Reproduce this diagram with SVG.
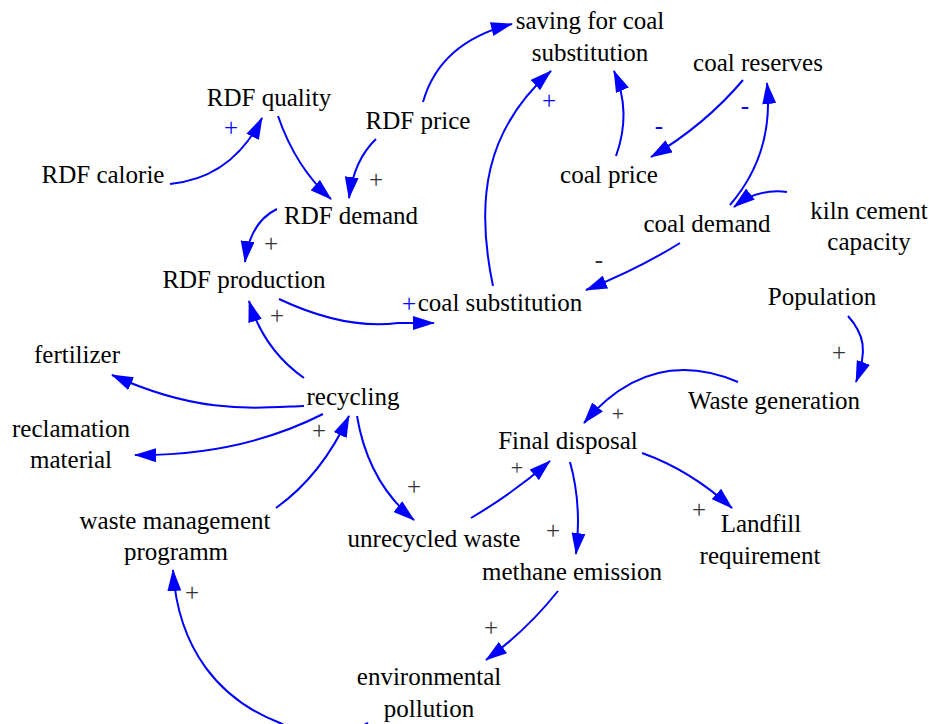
<svg xmlns="http://www.w3.org/2000/svg" width="929" height="724" viewBox="0 0 929 724">
<style>
text{font-family:"Liberation Serif","Times New Roman",serif;font-size:25px;fill:#000;text-anchor:middle}
.c{fill:none;stroke:#0000ff;stroke-width:2;marker-end:url(#ah)}
.pb{fill:#0000ff}
.pk{fill:#333}
.sm{font-size:22px}
</style>
<defs>
<marker id="ah" viewBox="0 0 22 14" refX="21" refY="7" markerWidth="22" markerHeight="14" markerUnits="userSpaceOnUse" orient="auto">
<path d="M0,0 L22,7 L0,14 z" fill="#0000ff"/>
</marker>
</defs>
<g id="connectors">
<path class="c" d="M170,184 Q232,178 262,118"/>
<path class="c" d="M278,116 Q296,168 331,199"/>
<path class="c" d="M376,139 Q354,160 349,198"/>
<path class="c" d="M423,102 Q440,42 512,24"/>
<path class="c" d="M277,209 Q250,222 245,262"/>
<path class="c" d="M279,299 Q345,330 398,323 L434,323"/>
<path class="c" d="M304,378 Q264,350 249,301"/>
<path class="c" d="M493,286 C475,200 485,130 551,71"/>
<path class="c" d="M616,156 Q632,112 614,71"/>
<path class="c" d="M743,80 Q705,125 651,157"/>
<path class="c" d="M730,205 C760,170 772,130 767,83"/>
<path class="c" d="M787,192 Q758,188 734,207"/>
<path class="c" d="M680,243 Q640,268 586,290"/>
<path class="c" d="M848,316 C864,334 868,350 856,382"/>
<path class="c" d="M738,382 Q650,345 584,423"/>
<path class="c" d="M471,518 Q515,492 550,461"/>
<path class="c" d="M357,416 Q368,482 414,520"/>
<path class="c" d="M276,508 Q322,475 349,416"/>
<path class="c" d="M304,406 C255,408 200,415 112,375"/>
<path class="c" d="M323,414 Q240,456 135,455"/>
<path class="c" d="M570,462 Q582,505 576,554"/>
<path class="c" d="M642,453 Q690,470 732,508"/>
<path class="c" d="M558,591 Q527,630 486,660"/>
<path class="c" d="M368,723 C340,738 300,734 280,723 C220,700 178,650 173,570"/>
<text class="pb" x="231" y="136">+</text>
<text class="pk" x="376" y="188">+</text>
<text class="pk" x="271" y="252">+</text>
<text class="pk" x="277" y="324">+</text>
<text class="pb" x="409" y="312">+</text>
<text class="pb" x="549" y="109">+</text>
<text class="pb" x="659" y="134">-</text>
<text class="pb" x="745" y="114">-</text>
<text class="pk" x="599" y="268">-</text>
<text class="pk" x="839" y="361">+</text>
<text class="pk sm" x="618" y="421">+</text>
<text class="pk sm" x="517" y="475">+</text>
<text class="pk" x="319" y="439">+</text>
<text class="pk" x="414" y="495">+</text>
<text class="pk" x="553" y="539">+</text>
<text class="pk" x="699" y="518">+</text>
<text class="pk" x="491" y="636">+</text>
<text class="pk" x="192" y="601">+</text>
</g>
<g id="saving"><text x="590" y="29">saving for coal</text><text x="590" y="61">substitution</text></g>
<g id="coal_reserves"><text x="758" y="71">coal reserves</text></g>
<g id="rdf_quality"><text x="269" y="106">RDF quality</text></g>
<g id="rdf_price"><text x="418" y="129">RDF price</text></g>
<g id="rdf_calorie"><text x="103" y="183">RDF calorie</text></g>
<g id="coal_price"><text x="609" y="183">coal price</text></g>
<g id="rdf_demand"><text x="351" y="224">RDF demand</text></g>
<g id="coal_demand"><text x="707" y="232">coal demand</text></g>
<g id="kiln"><text x="869" y="219">kiln cement</text><text x="869" y="250">capacity</text></g>
<g id="rdf_production"><text x="244" y="288">RDF production</text></g>
<g id="coal_substitution"><text x="500" y="311">coal substitution</text></g>
<g id="population"><text x="822" y="305">Population</text></g>
<g id="fertilizer"><text x="77" y="363">fertilizer</text></g>
<g id="recycling"><text x="353" y="405">recycling</text></g>
<g id="reclamation"><text x="71" y="437">reclamation</text><text x="71" y="468">material</text></g>
<g id="waste_generation"><text x="774" y="409">Waste generation</text></g>
<g id="final_disposal"><text x="568" y="449">Final disposal</text></g>
<g id="waste_mgmt"><text x="175" y="529">waste management</text><text x="176" y="560">programm</text></g>
<g id="unrecycled"><text x="434" y="547">unrecycled waste</text></g>
<g id="landfill"><text x="761" y="532">Landfill</text><text x="760" y="564">requirement</text></g>
<g id="methane"><text x="572" y="580">methane emission</text></g>
<g id="env_pollution"><text x="429" y="685">environmental</text><text x="429" y="717">pollution</text></g>
</svg>
